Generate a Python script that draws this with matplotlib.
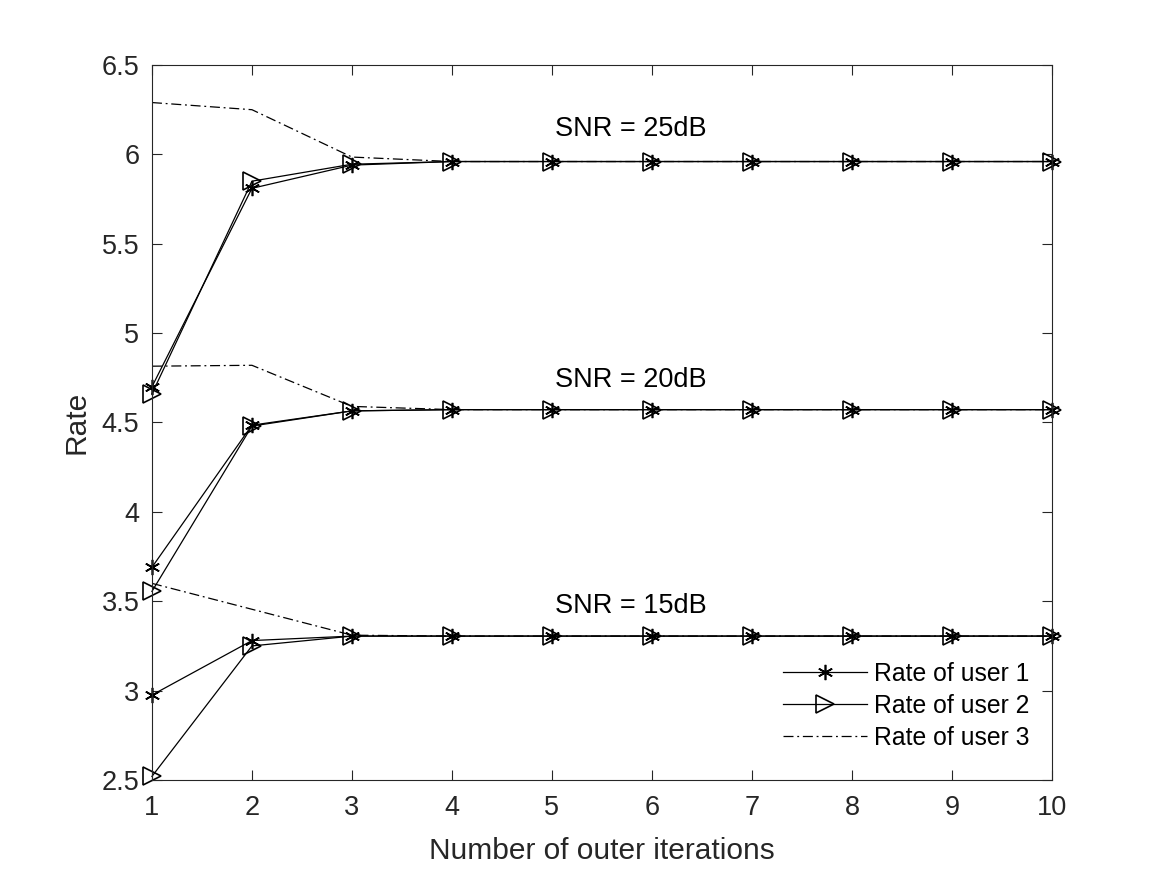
import numpy as np
import matplotlib.pyplot as plt

plt.rcParams['font.family'] = ['Liberation Sans', 'DejaVu Sans']

iters = [1, 2, 3, 4, 5, 6, 7, 8, 9, 10]

# SNR = 25dB
u1_25 = [4.70, 5.81, 5.94, 5.96, 5.96, 5.96, 5.96, 5.96, 5.96, 5.96]
u2_25 = [4.66, 5.85, 5.945, 5.96, 5.96, 5.96, 5.96, 5.96, 5.96, 5.96]
u3_25 = [6.29, 6.25, 5.985, 5.96, 5.96, 5.96, 5.96, 5.96, 5.96, 5.96]

# SNR = 20dB
u1_20 = [3.69, 4.485, 4.565, 4.572, 4.572, 4.572, 4.572, 4.572, 4.572, 4.572]
u2_20 = [3.555, 4.48, 4.565, 4.572, 4.572, 4.572, 4.572, 4.572, 4.572, 4.572]
u3_20 = [4.815, 4.82, 4.59, 4.572, 4.572, 4.572, 4.572, 4.572, 4.572, 4.572]

# SNR = 15dB
u1_15 = [2.975, 3.28, 3.305, 3.305, 3.305, 3.305, 3.305, 3.305, 3.305, 3.305]
u2_15 = [2.52, 3.25, 3.305, 3.305, 3.305, 3.305, 3.305, 3.305, 3.305, 3.305]
u3_15 = [3.60, 3.455, 3.31, 3.305, 3.305, 3.305, 3.305, 3.305, 3.305, 3.305]

snr_labels = ['SNR = 25dB', 'SNR = 20dB', 'SNR = 15dB']
snr_label_y = [6.14, 4.735, 3.475]

fig = plt.figure(figsize=(11.67, 8.75), dpi=100)
ax = fig.add_axes([0.1302, 0.1086, 0.7712, 0.8171])

star = (6, 2, 0)
lw = 0.9
for u1, u2, u3 in [(u1_25, u2_25, u3_25), (u1_20, u2_20, u3_20), (u1_15, u2_15, u3_15)]:
    l1, = ax.plot(iters, u1, color='k', lw=lw, marker=star, ms=11, mew=1.2, clip_on=False)
    l2, = ax.plot(iters, u2, color='k', lw=lw, marker='>', ms=13, mfc='none', mew=1.2, clip_on=False)
    l3, = ax.plot(iters, u3, color='k', lw=lw, ls=(0, (8, 3, 1.5, 3)))

for lab, yy in zip(snr_labels, snr_label_y):
    ax.text(5.03, yy, lab, fontsize=19.5, va='center', ha='left', color='k')

ax.set_xlim(1, 10)
ax.set_ylim(2.5, 6.5)
ax.set_xticks(iters)
ax.set_yticks(np.arange(2.5, 6.51, 0.5))
ax.set_yticklabels(['2.5', '3', '3.5', '4', '4.5', '5', '5.5', '6', '6.5'])

ax.tick_params(direction='in', length=7, width=0.8, labelsize=19.5, colors='#262626',
               top=True, right=True)
ax.tick_params(axis='x', pad=11)
ax.tick_params(axis='y', pad=9)
for s in ax.spines.values():
    s.set_color('#262626')
    s.set_linewidth(0.8)

ax.set_xlabel('Number of outer iterations', fontsize=21.5, color='#262626', labelpad=11)
ax.set_ylabel('Rate', fontsize=21.5, color='#262626', labelpad=8)

ax.legend([l1, l2, l3], ['Rate of user 1', 'Rate of user 2', 'Rate of user 3'],
          loc='lower right', bbox_to_anchor=(1.0, 0.011), frameon=False, fontsize=17.8,
          handlelength=3.4, handletextpad=0.3, labelspacing=0.33)

fig.savefig('out.png', dpi=100)
